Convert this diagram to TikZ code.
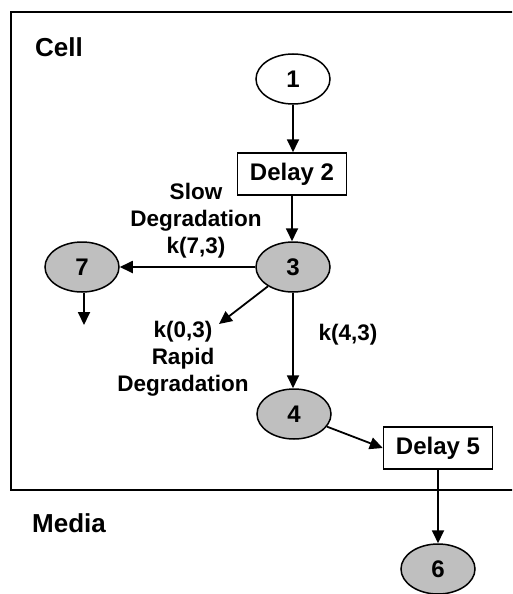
\documentclass[tikz,border=0pt]{standalone}
\usepackage{fontspec}
\setmainfont{Liberation Sans}
\usetikzlibrary{shapes.geometric,arrows.meta}
\begin{document}
\begin{tikzpicture}[x=1pt,y=-1pt,
  every node/.style={font=\fontsize{24}{28}\selectfont\bfseries},
  state/.style={ellipse,draw,line width=1.5pt,minimum width=74pt,minimum height=50pt,inner sep=0pt},
  grey/.style={state,fill=black!25},
  delaybox/.style={rectangle,draw,line width=1.5pt,minimum width=109pt,minimum height=42pt,inner sep=0pt},
  flow/.style={line width=1.8pt,-{Triangle[length=13pt,width=12pt]}},
  lbl/.style={align=center,inner sep=0pt,font=\fontsize{22.5}{27}\selectfont\bfseries},
  region/.style={inner sep=0pt,anchor=west,font=\fontsize{26}{30}\selectfont\bfseries}]
\useasboundingbox (0,0) rectangle (512,594);
\begin{scope}
\clip (0,0) rectangle (512,594);
% cell compartment, extending past the right edge
\draw[line width=1.5pt] (11,12) rectangle (540,490);
\end{scope}

\node[region] (cell) at (35,47) {Cell};
\node[region] (media) at (32,523) {Media};

\node[state] (n1) at (293,79) {1};
\node[delaybox] (d2) at (292,174) {Delay 2};
\node[grey] (n3) at (293,267) {3};
\node[grey] (n7) at (82,267) {7};
\node[grey] (n4) at (294,414) {4};
\node[delaybox] (d5) at (438,448) {Delay 5};
\node[grey] (n6) at (438,569) {6};

\coordinate (e7) at (84,325);
\coordinate (e3) at (219,324);

\draw[flow] (n1) -- (n1 |- d2.north);
\draw[flow] (d2) -- (d2 |- n3.north);
\draw[flow] (n3) -- (n7);
\draw[flow] (n7.south -| e7) -- (e7);
\draw[flow] (n3) -- (e3);
\draw[flow] (n3) -- (n3 |- n4.north);
\draw[flow] (n4) -- (d5.west);
\draw[flow] (d5) -- (d5 |- n6.north);

\node[lbl] (slow) at (196,221) {Slow\\Degradation\\k(7,3)};
\node[lbl] (rapid) at (183,359) {k(0,3)\\Rapid\\Degradation};
\node[lbl] (k43) at (348,335) {k(4,3)};
\end{tikzpicture}
\end{document}
